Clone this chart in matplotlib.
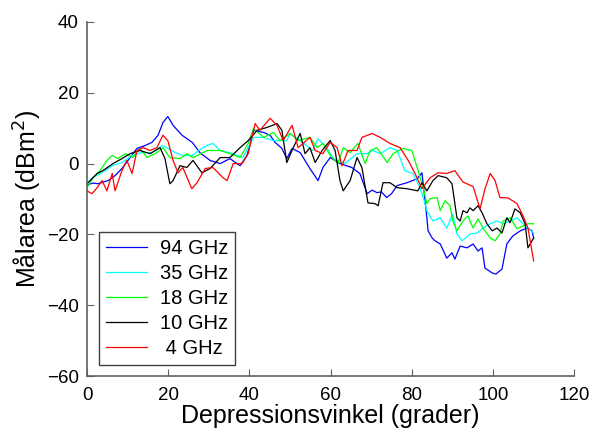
import matplotlib.pyplot as plt, numpy as np

plt.rcParams['font.family'] = ['Liberation Sans', 'DejaVu Sans']

# Traced curves (depression angle in degrees, target area in dBm^2)
blue = [(0,-6),(1.5,-5.5),(2.7,-5.7),(4,-5.2),(5.2,-4.8),(6.9,-3.4),(8.6,-1.4),(10.1,0.9),(12.3,4.3),(14.3,5.1),
        (16,6),(17.5,8),(18.7,11.6),(19.9,13.3),(21.2,10.8),(23.4,8),(25.9,6),(27.8,3.1),(30.3,0.9),(32.8,0),
        (35.2,1.4),(37.7,-0.6),(39.4,2.3),(41,9.4),(43.5,8.8),(45.1,8),(46.3,6),(48,4.3),(49.2,1.4),(50.5,4.3),
        (52.5,3.1),(54.9,-1.4),(56.9,-4.8),(58.1,-1.1),(59.9,1.7),(62.3,0),(65.2,-1.1),(67.2,-2.8),(69,-8.5),(70.2,-7.5),
        (71.4,-8.2),(72.5,-8),(73.8,-9.6),(75,-8.5),(76.4,-6.2),(78.8,-5.4),(81.3,-4.3),(82.5,-2.6),(83.7,-15.3),(84,-19),
        (85,-21),(85.7,-21.8),(87,-22.7),(88.6,-26.7),(89.9,-25.2),(90.6,-27),(91.9,-23.3),(93.6,-23.8),(95.1,-22.7),(96.3,-24.7),
        (97.3,-23.8),(98,-29.5),(99.8,-30.9),(100.7,-31.2),(102.2,-29.8),(103.4,-22.7),(104.9,-20.4),(106.7,-19),(108.4,-18.2),(109.6,-19),
        (110,-21)]
cyan = [(0,-5.7),(1.2,-4),(3.7,-2.6),(6.2,-0.6),(8.6,0.3),(11.1,2.3),(13.5,3.1),(16,3.1),(18.5,5.1),(19.9,4.3),
        (21.7,3.1),(23.6,2.3),(25.9,2.3),(28.3,4.3),(29.5,5.1),(31,5.7),(32.8,3.7),(36,2.8),(38.4,1.7),(41,7.4),
        (43.5,7.4),(45.9,6.5),(49.2,6.5),(50,8.5),(52.5,6.5),(55.6,3.7),(56.9,7),(59,4.5),(60.7,1.4),(63.5,0),
        (66.5,2.8),(69,2.8),(70.4,3.7),(72.2,2.8),(74.6,4.5),(76.4,3.7),(78.3,-2),(80.3,-2.8),(82,-6.8),(82.8,-9.6),
        (83.7,-13.3),(85.2,-16.2),(87,-15.3),(88.6,-18.2),(90.1,-14.2),(91.1,-19.9),(92.4,-21.8),(94.3,-19.9),(96.1,-19.6),(97.5,-18.2),
        (99.3,-17),(101,-16.2),(102.5,-17),(104.2,-16.2),(105.9,-15.3),(108.4,-18.2),(110,-19.6)]
green = [(0,-6.8),(1.5,-4),(3.2,-2),(4.9,0.9),(6.2,2.3),(7.6,1.4),(9.4,2.8),(11.3,1.7),(13,4.3),(14.8,1.7),
         (17.2,3.1),(18.7,4.5),(20.4,1.7),(22.9,1.4),(24.6,2.8),(26.1,1.7),(29.6,3.7),(32.8,3.7),(35.2,2.8),(37.7,1.7),
         (39.7,5.7),(41,9.9),(43.5,7.4),(45.9,8.8),(47.5,6.5),(50,8.5),(52,6.5),(54.9,7.4),(56.7,4.5),(58.1,5.7),
         (59.9,2.3),(61.8,0),(63.1,4.5),(64.8,3.1),(66.7,5.7),(68.5,0),(69.7,3.7),(71.4,4.5),(73.9,0.3),(75.4,2.8),
         (77.8,4.3),(80,3.7),(81.3,-1.1),(82.8,-6.8),(83.7,-11.3),(84.5,-9.9),(86.2,-9.6),(87,-13.3),(88.2,-10.5),(89.4,-11.9),
         (90.1,-16.2),(91.1,-19),(92.6,-16.2),(93.8,-14.8),(95.1,-18.2),(96.3,-15.6),(97.5,-18.2),(99.3,-21),(100.5,-21.8),(101.7,-19.9),
         (102.5,-16.2),(104.2,-15.3),(105.9,-18.4),(107.4,-17.6),(108.6,-17),(110,-17)]
black = [(0,-5.7),(2.5,-2.8),(3.9,-2),(6.4,0),(8.6,1.4),(10.6,2.8),(13,3.7),(15.5,2.8),(18,4.5),(19.2,1.4),
         (20.4,-5.7),(21.2,-4.8),(22.9,-0.6),(24.6,-1.1),(26.1,0.9),(28.3,-2.6),(30.3,-1.4),(32.8,1.7),(35.2,1.7),(37.7,4.5),
         (39.7,6.5),(41.9,9.4),(44.3,10.2),(46.8,11.3),(48,9.4),(49.2,0.3),(50.8,4.5),(52.5,8.5),(53.7,2.8),(54.9,4.5),
         (56.2,0.3),(57.9,3.7),(59.9,6.5),(61.1,3.7),(62.3,-4.8),(63.1,-7.7),(64.8,-4.8),(66.5,1.7),(67.7,-1.1),(69.2,-11.1),
         (70.9,-11.3),(71.7,-11.9),(72.9,-5.4),(74.6,-5.4),(76.4,-6.8),(78.8,-7.1),(81.5,-7.7),(82.5,-5.4),(83.7,-7.7),(85.2,-4.8),
         (86.5,-3.4),(88.6,-4),(89.9,-5.7),(91.1,-15.3),(91.9,-16.2),(92.6,-13.3),(93.6,-13.9),(94.3,-12.5),(95.1,-13.3),(96.3,-11.9),
         (97.3,-13.9),(98.5,-17),(99.8,-19),(101,-18.2),(102.2,-19.6),(103.4,-15.3),(104.2,-16.7),(105.4,-12.8),(106.7,-13.9),(107.9,-17),
         (108.6,-23.8),(109.6,-21.8),(110,-21)]
red = [(0,-7.7),(1.2,-8.5),(2.5,-6.8),(3.7,-4.8),(4.9,-7.7),(6.2,-2.8),(6.9,-7.7),(8.6,-2),(9.8,0.9),(11.1,-2.8),
       (12.3,3.7),(13.8,4.5),(15.5,3.7),(17.2,4.5),(18.7,8),(19.9,6.5),(21.2,0.9),(22.4,-2.6),(23.6,-1.1),(25.8,-7.1),
       (27.1,-5.4),(29.1,-1.4),(31,-1.1),(33.5,-4),(34.5,-4.8),(36,0),(38.2,0),(39.7,2.8),(41.4,11.3),(42.6,9.4),
       (45.1,12.8),(46.8,10.8),(48.3,6.5),(50.5,10.8),(52,4.5),(54.9,7.4),(56.2,3.7),(58.1,2.8),(59.9,6),(61.6,4.5),
       (62.8,-0.6),(64.3,3.7),(66.5,3.7),(67.7,7.4),(70.2,8.5),(72.2,7.4),(74.6,5.7),(77.1,4.5),(79.1,0.9),(80.8,-2.8),
       (82.5,-7.1),(84.5,-4),(86.5,-2.6),(88.6,-2.8),(90.6,-2),(92.6,-5.2),(95.1,-6.5),(96.8,-12.8),(98,-7.2),(99.3,-2.8),
       (100.5,-4.8),(101.7,-9.6),(103.7,-9.7),(105.9,-11.3),(107.4,-14.8),(108.6,-18.2),(110,-27.5)]

labels = ['94 GHz', '35 GHz', '18 GHz', '10 GHz', ' 4 GHz']
series = [blue, cyan, green, black, red]
colors = ['#0000ff', '#00ffff', '#00ff00', '#000000', '#ff0000']

fig = plt.figure(figsize=(5.92, 4.36), dpi=100)
ax = fig.add_axes([0.147, 0.1376, 0.823, 0.812])
for pts, c, lab in zip(series, colors, labels):
    xy = np.array(pts).T
    ax.plot(xy[0], xy[1], color=c, lw=0.9, label=lab)

ax.set_xlim(0, 120)
ax.set_ylim(-60, 40)
ax.set_xticks(np.arange(0, 121, 20))
ax.set_yticks(np.arange(-60, 41, 20))
for s in ['top', 'right']:
    ax.spines[s].set_visible(False)
for s in ['left', 'bottom']:
    ax.spines[s].set_color('#606060')
    ax.spines[s].set_linewidth(1.2)
ax.tick_params(direction='in', length=5, color='#606060', labelsize=13.5)
ax.tick_params(axis='x', pad=8)
ax.tick_params(axis='y', pad=6)
ax.set_xlabel('Depressionsvinkel (grader)', fontsize=18, labelpad=0)
ax.set_ylabel('Målarea (dBm$^2$)', fontsize=18, labelpad=2)

leg = ax.legend(loc='lower left', bbox_to_anchor=(0.025, 0.031), fontsize=14.5,
                handlelength=2.0, fancybox=False, framealpha=1, borderaxespad=0,
                labelspacing=0.3, borderpad=0.35, handletextpad=0.65)
leg.get_frame().set_edgecolor('#404040')
leg.get_frame().set_linewidth(1.0)

plt.savefig('out.png', dpi=100)
